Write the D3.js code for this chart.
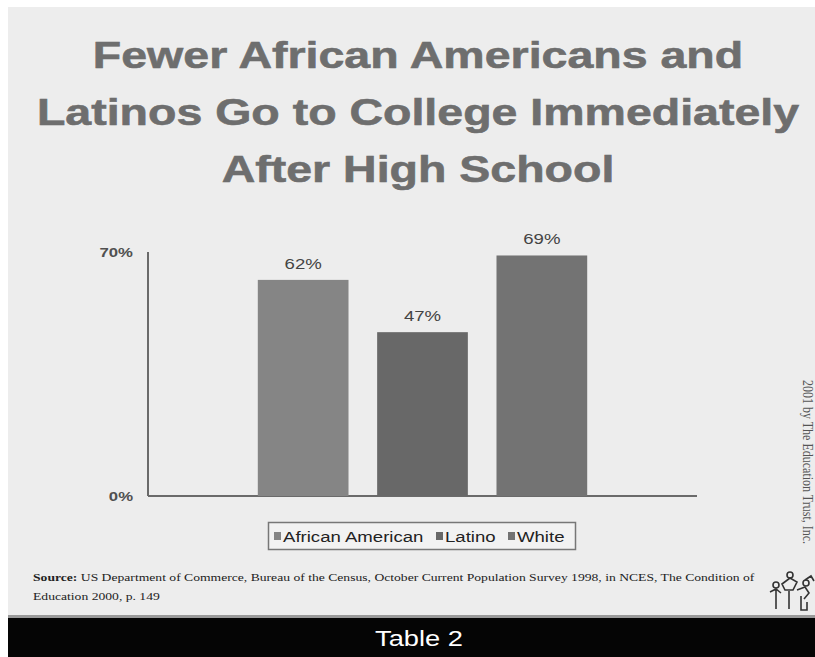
<!DOCTYPE html>
<html><head><meta charset="utf-8">
<script src="https://cdn.jsdelivr.net/npm/d3@7"></script>
<style>html,body{margin:0;padding:0;background:#fff;}svg{display:block;}</style>
</head><body>
<script>
const categories = ["African American", "Latino", "White"];
const values = [62, 47, 69];
const colors = ["#858585", "#686868", "#737373"];
const yTicks = [0, 70];
const titleLines = ["Fewer African Americans and", "Latinos Go to College Immediately", "After High School"];

const W = 815, H = 657, SX = 1.24;
const SANS = "Liberation Sans, Arial, sans-serif";
const SERIF = "Liberation Serif, Times New Roman, serif";
const svg = d3.select("body").append("svg").attr("width", W).attr("height", H);
svg.append("rect").attr("x", 0).attr("y", 0).attr("width", W).attr("height", H).attr("fill", "#fff");
svg.append("rect").attr("x", 8).attr("y", 7).attr("width", W - 8).attr("height", H - 7).attr("fill", "#ededed");

// helper: horizontally stretched text
function sText(sel, x, y) {
  return sel.attr("transform", `translate(${x},${y}) scale(${SX},1)`);
}

// Title
svg.append("g").selectAll("text").data(titleLines).join("text")
  .each(function (d, i) { sText(d3.select(this), 418, 68 + i * 57); })
  .attr("text-anchor", "middle")
  .attr("font-family", SANS)
  .attr("font-weight", "bold").attr("font-size", 37.5)
  .attr("fill", "#6e6e6e").attr("stroke", "#6e6e6e").attr("stroke-width", 0.6).text(d => d);

const x = d3.scaleBand().domain(categories).range([148, 697]).paddingInner(0.24).paddingOuter(0.92);
const y = d3.scaleLinear().domain([0, 70]).range([496, 252]);

// Axes
const g = svg.append("g");
g.append("line").attr("x1", 148).attr("x2", 148).attr("y1", y(70)).attr("y2", y(0)).attr("stroke", "#6a6a6a").attr("stroke-width", 2);
g.append("line").attr("x1", 148).attr("x2", 697).attr("y1", y(0)).attr("y2", y(0)).attr("stroke", "#6a6a6a").attr("stroke-width", 2);
g.selectAll(".tick").data(yTicks).join("text")
  .each(function (d) { sText(d3.select(this), 133, y(d) + 5); })
  .attr("text-anchor", "end")
  .attr("font-family", SANS).attr("font-weight", "bold").attr("font-size", 13.5)
  .attr("fill", "#505050").text(d => d + "%");

// Bars
g.selectAll(".bar").data(values).join("rect")
  .attr("x", (d, i) => x(categories[i])).attr("width", x.bandwidth())
  .attr("y", d => y(d)).attr("height", d => y(0) - y(d))
  .attr("fill", (d, i) => colors[i]);
g.selectAll(".lbl").data(values).join("text")
  .each(function (d, i) { sText(d3.select(this), x(categories[i]) + x.bandwidth() / 2, y(d) - 11); })
  .attr("text-anchor", "middle")
  .attr("font-family", SANS).attr("font-size", 15)
  .attr("fill", "#444").text(d => d + "%");

// Legend
const lg = svg.append("g");
lg.append("rect").attr("x", 268.5).attr("y", 522.5).attr("width", 307).attr("height", 27)
  .attr("fill", "#f2f2f2").attr("stroke", "#777").attr("stroke-width", 1.5);
const legendX = [274, 436, 508];
const litems = lg.selectAll("g").data(categories).join("g");
litems.append("rect").attr("x", (d, i) => legendX[i]).attr("y", 532).attr("width", 7).attr("height", 8)
  .attr("fill", (d, i) => colors[i]);
litems.append("text")
  .each(function (d, i) { sText(d3.select(this), legendX[i] + 9, 541.5); })
  .attr("font-family", SANS).attr("font-size", 15)
  .attr("fill", "#222").text(d => d);

// Source
const src = svg.append("text")
  .attr("transform", `translate(33,581) scale(${SX},1)`)
  .attr("font-family", SERIF).attr("font-size", 11).attr("fill", "#222");
src.append("tspan").attr("font-weight", "bold").text("Source:");
src.append("tspan").text(" US Department of Commerce, Bureau of the Census, October Current Population Survey 1998, in NCES, The Condition of");
svg.append("text").attr("transform", `translate(33,600) scale(${SX},1)`)
  .attr("font-family", SERIF).attr("font-size", 11).attr("fill", "#222")
  .text("Education 2000, p. 149");

// Copyright vertical
svg.append("text").attr("transform", "translate(803,380) rotate(90) scale(1,1.2)")
  .attr("font-family", SERIF).attr("font-size", 12).attr("fill", "#555")
  .text("2001 by The Education Trust, Inc.");

// Logo (simple stick figures)
const logo = svg.append("g").attr("fill", "none").attr("stroke", "#333").attr("stroke-width", 1.6);
logo.append("path").attr("d", "M770,592 l6,-3 l5,4 M776,589 v20 M782,584 l8,-6 l7,4 l-4,8 l-8,0 z M789,591 v18 M797,590 l8,-3 l4,6 l-5,6 M801,596 v14 l6,0 l0,-8 M805,580 l6,-4 l3,5");
logo.selectAll("circle").data([[776, 585], [790, 575], [806, 583]]).join("circle")
  .attr("cx", d => d[0]).attr("cy", d => d[1]).attr("r", 3);

// Bottom band
svg.append("rect").attr("x", 8).attr("y", 615).attr("width", W - 8).attr("height", 3).attr("fill", "#9a9a9a");
svg.append("rect").attr("x", 8).attr("y", 618).attr("width", W - 8).attr("height", H - 618).attr("fill", "#050505");
svg.append("text").attr("transform", `translate(419,646) scale(${SX},1)`).attr("text-anchor", "middle")
  .attr("font-family", SANS).attr("font-size", 22).attr("fill", "#fff")
  .text("Table 2");
</script>
</body></html>
